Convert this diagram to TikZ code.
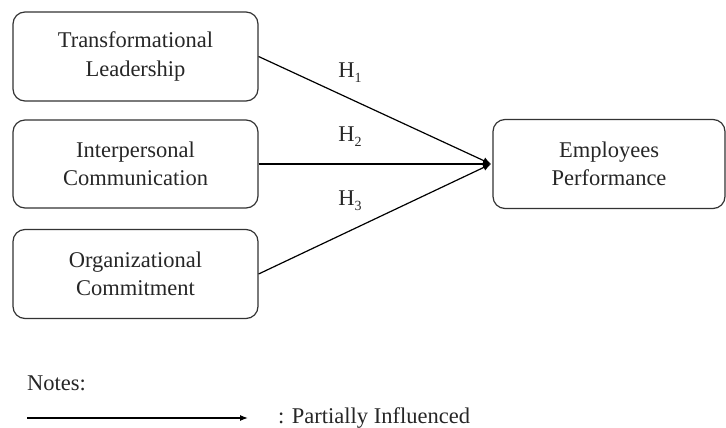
\documentclass[tikz,border=0pt]{standalone}
\usepackage{fontspec}
\setmainfont{Liberation Serif}
\usetikzlibrary{arrows.meta}
\newcommand{\hsub}[1]{\raisebox{-5pt}{\fontsize{14}{14}\selectfont #1}}
\begin{document}
\begin{tikzpicture}[x=1pt,y=-1pt,
  varbox/.style={draw=black!80, line width=1.2pt, rounded corners=12pt, align=center,
    font=\fontsize{22.5}{28.5}\selectfont, text=black!85, inner sep=0pt},
  conn/.style={line width=1.2pt, -{Latex[length=8pt,width=7pt]}},
  hlab/.style={font=\fontsize{22.5}{26}\selectfont, text=black!85, inner sep=0pt}]
\useasboundingbox (0,0) rectangle (726,428);
\node[varbox, minimum width=245pt, minimum height=89pt] (tl) at (135.5,56.5) {Transformational\\Leadership};
\node[varbox, minimum width=245pt, minimum height=88pt] (ic) at (135.5,164) {Interpersonal\\Communication};
\node[varbox, minimum width=245pt, minimum height=89pt] (oc) at (135.5,274) {Organizational\\Commitment};
\node[varbox, minimum width=232pt, minimum height=89pt] (ep) at (609,164) {Employees\\Performance};
\coordinate (tip) at (491,164);
\draw[conn] (tl.east) -- (tip);
\draw[conn] (ic.east) -- (tip);
\draw[conn] (oc.east) -- (tip);
\node[hlab] (h1) at (350,73) {H\hsub{1}};
\node[hlab] (h2) at (350,137) {H\hsub{2}};
\node[hlab] (h3) at (350,201) {H\hsub{3}};
\node[hlab, anchor=west] (notes) at (27,383) {Notes:};
\coordinate (la) at (27,418);
\coordinate (lb) at (248,418);
\draw[line width=1.2pt, -{Latex[length=8pt,width=6pt]}] (la) -- (lb);
\node[hlab, anchor=west] (pi) at (278,418) {: Partially Influenced};
\end{tikzpicture}
\end{document}
